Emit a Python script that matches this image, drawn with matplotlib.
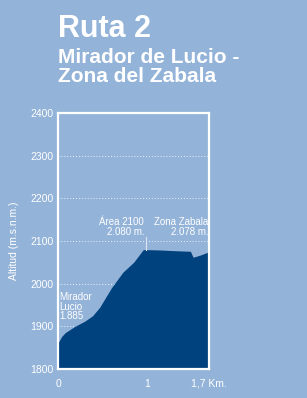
import numpy as np
import matplotlib.pyplot as plt

plt.rcParams['font.family'] = ['Liberation Sans', 'DejaVu Sans']

# elevation profile
dist_km = [0.0, 0.04, 0.08, 0.19, 0.30, 0.39, 0.47, 0.60, 0.73, 0.85, 0.96, 1.15, 1.35, 1.49, 1.52, 1.60, 1.70]
alt_m = [1861, 1876, 1885, 1900, 1912, 1925, 1945, 1990, 2027, 2050, 2080, 2079, 2077, 2076, 2062, 2067, 2075]

yticks = [1800, 1900, 2000, 2100, 2200, 2300, 2400]
xticks = [0, 1, 1.7]
xtick_labels = ["0", "1", "1,7 Km."]

title = "Ruta 2"
subtitle = "Mirador de Lucio -\nZona del Zabala"
ylabel = "Altitud (m.s.n.m.)"

bg = "#94B3D8"
fill_col = "#00427E"

fig = plt.figure(figsize=(3.07, 3.98), dpi=100, facecolor=bg)
ax = fig.add_axes([0.189, 0.0729, 0.492, 0.643])
ax.set_facecolor(bg)

# dotted guide lines behind the profile
for y in yticks[1:-1]:
    ax.axhline(y, color="white", lw=0.7, ls=(0, (1, 2)), alpha=0.8, zorder=1)

ax.fill_between(dist_km, alt_m, 1800, color=fill_col, lw=0, zorder=2)

ax.set_xlim(0, 1.7)
ax.set_ylim(1800, 2400)
ax.set_yticks(yticks)
ax.set_xticks(xticks)
ax.set_xticklabels(xtick_labels)
ax.tick_params(colors="white", labelsize=7.5, length=0, pad=3)
ax.tick_params(axis="x", pad=7)
for s in ax.spines.values():
    s.set_color("white")
    s.set_linewidth(1.6)
    s.set_zorder(3)
ax.set_ylabel(ylabel, color="white", fontsize=7.5, labelpad=8)

# annotations
ax.text(0.015, 1885 + 27, "Mirador\nLucio\n1.885", color="white", fontsize=7,
        ha="left", va="bottom", linespacing=0.95)
ax.text(0.97, 2110, "Área 2100\n2.080 m.", color="white", fontsize=7,
        ha="right", va="bottom", linespacing=0.95)
ax.plot([0.985, 0.985], [2080, 2110], color="#DDE6F0", lw=0.8, zorder=3)
ax.text(1.69, 2110, "Zona Zabala\n2.078 m.", color="white", fontsize=7,
        ha="right", va="bottom", linespacing=0.95)

fig.text(58 / 307, 1 - 37 / 398, title, color="white", fontsize=22,
         fontweight="bold", ha="left", va="baseline")
fig.text(58 / 307, 1 - 82 / 398, subtitle, color="white", fontsize=15,
         fontweight="bold", ha="left", va="baseline", linespacing=1.0)

fig.savefig("out.png", dpi=100, facecolor=bg)
